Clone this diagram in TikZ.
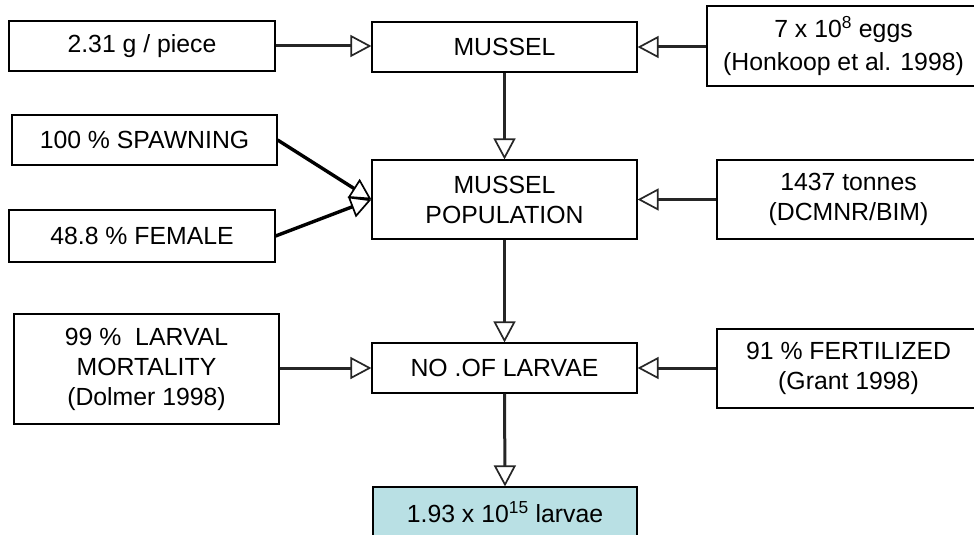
\documentclass[tikz,border=0pt]{standalone}
\usepackage{fontspec}
\setmainfont{Liberation Sans}
\usetikzlibrary{arrows.meta}
\definecolor{finalfill}{HTML}{B9E0E4}
\tikzset{
  box/.style={draw=black, line width=1.2pt, minimum width=#1, inner sep=0pt, align=center, font=\fontsize{24.8}{30}\selectfont},
  tip/.style={-{Triangle[open, length=21pt, width=22pt, line width=1.7pt, fill=white]}},
  conn/.style={draw=black!85, line width=3pt, tip},
  diag/.style={draw=black, line width=3.4pt, tip}
}
\begin{document}
\begin{tikzpicture}[x=1pt, y=-1pt]
\useasboundingbox (0,0) rectangle (974,535);
\clip (0,0) rectangle (974,535);
\node[box=266pt, minimum height=50pt] (piece) at (142,46) {2.31 g / piece};
\node[box=265pt, minimum height=50pt] (mussel) at (504.5,47) {MUSSEL};
\node[box=273pt, minimum height=80pt, font=\fontsize{24.8}{33}\selectfont] (eggs) at (843.5,46) {7 x 10\textsuperscript{8} eggs\\(Honkoop et al. 1998)};
\node[box=265pt, minimum height=50pt] (spawn) at (144.5,140) {100 \% SPAWNING};
\node[box=266pt, minimum height=52pt] (female) at (142,236) {48.8 \% FEMALE};
\node[box=265pt, minimum height=79pt] (pop) at (504.5,199.5) {MUSSEL\\POPULATION};
\node[box=263pt, minimum height=79pt] (tonnes) at (848.5,199.5) {1437 tonnes\\(DCMNR/BIM)};
\node[box=265pt, minimum height=110pt] (larval) at (146.5,369) {99 \%\ \ LARVAL\\MORTALITY\\(Dolmer 1998)};
\node[box=265pt, minimum height=50pt] (larvae) at (504.5,368) {NO .OF LARVAE};
\node[box=263pt, minimum height=79pt] (fert) at (848.5,368.5) {91 \% FERTILIZED\\(Grant 1998)};
\node[box=264pt, minimum height=50pt, fill=finalfill] (final) at (505,512) {1.93 x 10\textsuperscript{15} larvae};
\draw[conn] (piece.east) -- (piece.east -| mussel.west);
\draw[conn] (eggs.west |- mussel.east) -- (mussel.east);
\draw[conn] (mussel.south) -- (pop.north);
\draw[conn] (tonnes.west) -- (pop.east);
\draw[conn] (pop.south) -- (larvae.north);
\draw[conn] (larval.east |- larvae.west) -- (larvae.west);
\draw[conn] (fert.west |- larvae.east) -- (larvae.east);
\draw[conn] (larvae.south) -- (final.north);
\draw[diag] (spawn.east) -- (pop.west);
\draw[diag] (female.east) -- (pop.west);
\end{tikzpicture}
\end{document}
